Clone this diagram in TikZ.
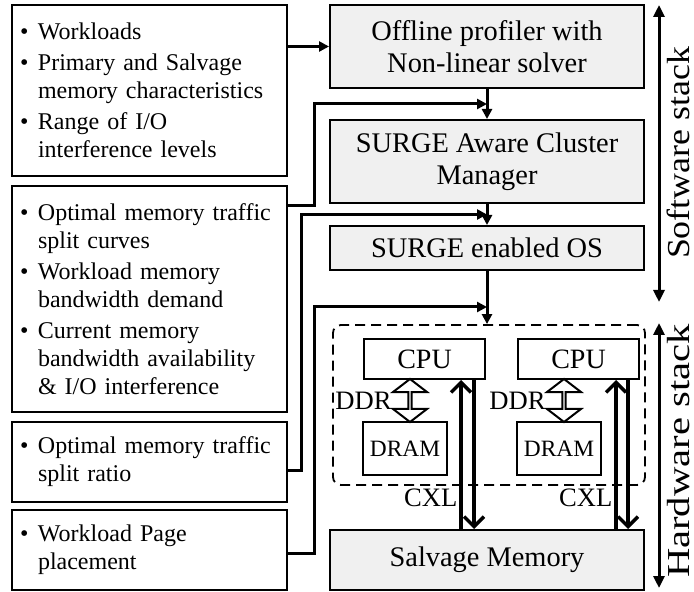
\documentclass[tikz,border=0pt]{standalone}
\usepackage{fontspec}
\setmainfont{Liberation Serif}
\usetikzlibrary{arrows.meta, positioning, calc, shapes.arrows}

\newcommand{\bitem}{\makebox[9pt][l]{\textbullet}}
\newcommand{\bcont}{\hspace*{9pt}}

\begin{document}
\begin{tikzpicture}[
  x=0.5pt, y=-0.5pt,
  inbox/.style={rectangle, draw=black, line width=1pt,
                minimum width=137.5pt, text width=129.5pt, inner xsep=4pt,
                align=left, font=\fontsize{12}{14}\selectfont},
  layer/.style={rectangle, draw=black, line width=1pt, fill=black!6,
                minimum width=157pt, align=center,
                font=\fontsize{14.2}{16}\selectfont},
  hwpart/.style={rectangle, draw=black, line width=1pt, fill=white,
                 font=\fontsize{14}{16}\selectfont},
  hwgroup/.style={rectangle, draw=black, line width=0.9pt, dash pattern=on 5pt off 3pt,
                  rounded corners=4pt, minimum width=156pt, minimum height=80pt},
  ddrarrow/.style={double arrow, draw=black, line width=1pt, fill=white,
                   rotate=90, minimum height=21.5pt, minimum width=17pt,
                   double arrow head extend=4.5pt, double arrow tip angle=105, inner sep=0pt},
  arr/.style={-{Triangle[length=5pt, width=5pt]}, line width=1.5pt},
  cxl/.style={-{Straight Barb[length=5pt, width=10pt]}, line width=1.7pt},
  stack/.style={{Triangle[length=6pt, width=5.5pt]}-{Triangle[length=6pt, width=5.5pt]}, line width=1.5pt},
  stacklbl/.style={rotate=90, anchor=base, inner sep=0pt, text depth=0pt,
                   font=\fontsize{16}{18}\selectfont},
  lbl/.style={font=\fontsize{13.3}{16}\selectfont, inner sep=1pt}
]
\useasboundingbox (0,0) rectangle (694,592);

% inputs on the left
\node[inbox, minimum height=85.5pt] (inA) at (149.5,90.5)
  {\bitem Workloads\\[1.5pt]
   \bitem Primary and Salvage\\ \bcont memory characteristics\\[1.5pt]
   \bitem Range of I/O\\ \bcont interference levels};
\node[inbox, minimum height=113pt] (inB) at (149.5,299)
  {\bitem Optimal memory traffic\\ \bcont split curves\\[1.5pt]
   \bitem Workload memory\\ \bcont bandwidth demand\\[1.5pt]
   \bitem Current memory\\ \bcont bandwidth availability\\ \bcont \& I/O interference};
\node[inbox, minimum height=40pt] (inC) at (149.5,462)
  {\bitem Optimal memory traffic\\ \bcont split ratio};
\node[inbox, minimum height=40pt] (inD) at (149.5,550)
  {\bitem Workload Page\\ \bcont placement};

% software layers
\node[layer, minimum height=41.5pt] (prof)  at (487,46.5)  {Offline profiler with\\Non-linear solver};
\node[layer, minimum height=41.5pt] (aware) at (487,161.5) {SURGE Aware Cluster\\Manager};
\node[layer, minimum height=22pt]   (os)    at (487,248)   {SURGE enabled OS};

% hardware
\node[hwgroup] (hw) at (489,405) {};
\node[hwpart, minimum width=60.5pt, minimum height=20pt] (cpuA) at (424.5,359) {CPU};
\node[hwpart, minimum width=60.5pt, minimum height=20pt] (cpuB) at (578.5,359) {CPU};
\node[hwpart, minimum width=41pt, minimum height=26.5pt, font=\fontsize{11.7}{14}\selectfont] (dramA) at (405,448.5) {DRAM};
\node[hwpart, minimum width=41pt, minimum height=26.5pt, font=\fontsize{11.7}{14}\selectfont] (dramB) at (559,448.5) {DRAM};
\node[layer, minimum height=30pt] (salv) at (487,560) {Salvage Memory};

\node[ddrarrow] (ddrA) at (410,400.5) {};
\node[ddrarrow] (ddrB) at (564,400.5) {};
\node[lbl, anchor=east] (ddrlblA) at ([xshift=-8pt]ddrA.center) {DDR};
\node[lbl, anchor=east] (ddrlblB) at ([xshift=-8pt]ddrB.center) {DDR};

% junction points on the layer arrows
\coordinate (jA) at ($(prof.south)!0.5!(aware.north)$);
\coordinate (jB) at ($(aware.south)!0.5!(os.north)$);
\coordinate (jC) at (487,307);

\draw[arr] (prof.south)  -- (aware.north);
\draw[arr] (aware.south) -- (os.north);
\draw[arr] (os.south)    -- (os.south |- hw.north);

\draw[arr] (inA.east |- prof.west) -- (prof.west);
\draw[arr] ([yshift=-10.5pt]inB.north east) -| ([xshift=13pt]inB.north east |- jA) -- (jA);
\draw[arr] ([yshift=-4pt]inC.east) -| ([xshift=6.5pt]inC.east |- jB) -- (jB);
\draw[arr] ([yshift=-1.5pt]inD.east) -| ([xshift=13pt]inD.east |- jC) -- (jC);

% CXL links
\draw[cxl] ([xshift=-12.5pt]cpuA.south east |- salv.north)
  -- node[lbl, left, pos=0.21] (cxlA) {CXL} ([xshift=-12.5pt]cpuA.south east);
\draw[cxl] ([xshift=-6pt]cpuA.south east) -- ([xshift=-6pt]cpuA.south east |- salv.north);
\draw[cxl] ([xshift=-12pt]cpuB.south east |- salv.north)
  -- node[lbl, left, pos=0.21] (cxlB) {CXL} ([xshift=-12pt]cpuB.south east);
\draw[cxl] ([xshift=-6pt]cpuB.south east) -- ([xshift=-6pt]cpuB.south east |- salv.north);

% stack extents
\coordinate (swTop) at (659,5);
\coordinate (swBot) at (659,302);
\coordinate (hwTop) at (659,323);
\coordinate (hwBot) at (659,588);
\draw[stack] (swTop) -- (swBot);
\draw[stack] (hwTop) -- (hwBot);
\node[stacklbl, xscale=1.12] (swlbl) at (689,153) {Software stack};
\node[stacklbl, xscale=1.27] (hwlbl) at (689,451) {Hardware stack};
\end{tikzpicture}
\end{document}
